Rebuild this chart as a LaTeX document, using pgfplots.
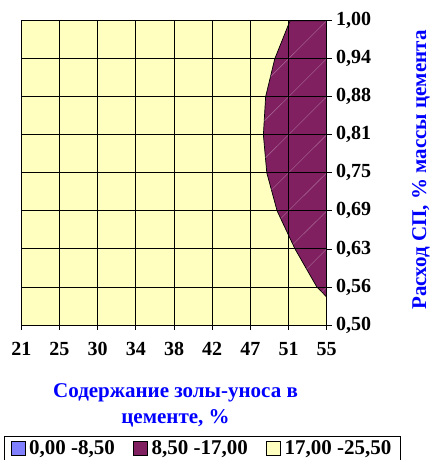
\documentclass[border=0pt]{standalone}
\usepackage{pgfplots}
\pgfplotsset{compat=1.18}
\usepackage{fontspec}
\setmainfont{Liberation Serif}
\definecolor{cyellow}{RGB}{255,255,192}
\definecolor{cpurple}{RGB}{128,32,96}
\definecolor{cblue}{RGB}{128,128,255}
\definecolor{ttl}{RGB}{0,0,255}
\begin{document}
\begin{tikzpicture}[x=1pt,y=1pt]
\useasboundingbox (0,0) rectangle (431,460);
\begin{axis}[
  at={(21.3pt,135pt)}, anchor=south west,
  scale only axis, width=305.4pt, height=304.3pt,
  xmin=21.25, xmax=55.25, ymin=0.5, ymax=1,
  xtick={21.25,25.5,29.75,34,38.25,42.5,46.75,51,55.25},
  xticklabels={21,25,30,34,38,42,47,51,55},
  ytick={0.5,0.5625,0.625,0.6875,0.75,0.8125,0.875,0.9375,1},
  yticklabels={{0,50},{0,56},{0,63},{0,69},{0,75},{0,81},{0,88},{0,94},{1,00}},
  xtick pos=bottom, ytick pos=right, yticklabel pos=right,
  tick align=outside, major tick length=5pt,
  tick style={black, line width=0.8pt},
  grid=major, major grid style={black, line width=0.9pt},
  axis line style={black, line width=0.9pt},
  axis on top,
  axis background/.style={fill=cyellow},
  tick label style={font=\bfseries\fontsize{20}{24}\selectfont},
  xticklabel style={yshift=-9pt},
  yticklabel style={xshift=1pt},
  xlabel={Содержание золы-уноса в\\цементе, \%},
  xlabel style={at={(axis description cs:0.505,-0.265)}, anchor=center, align=center,
    font=\bfseries\fontsize{21}{26}\selectfont, text=ttl},
  ylabel={Расход СП, \% массы цемента},
  ylabel style={at={(axis description cs:1.309,0.509)}, anchor=center, rotate=0,
    font=\bfseries\fontsize{21}{24}\selectfont, text=ttl},
  legend columns=3,
  legend image code/.code={
    \fill[white,opacity=0] (0pt,-7pt) rectangle (19pt,7pt);
    \filldraw[#1,draw=black,line width=0.7pt] (1.5pt,-7pt) rectangle (15.5pt,7pt);},
  legend style={at={(axis description cs:-0.057,-0.366)}, anchor=north west,
    draw=black, line width=0.8pt, inner xsep=5pt, inner ysep=2pt,
    font=\bfseries\fontsize{21}{25}\selectfont,
    nodes={inner xsep=0pt},
    /tikz/every even column/.append style={column sep=17pt}},
]
\addlegendimage{fill=cblue}
\addlegendentry{0,00 -8,50}
\addlegendimage{fill=cpurple}
\addlegendentry{8,50 -17,00}
\addlegendimage{fill=cyellow}
\addlegendentry{17,00 -25,50\hspace*{4pt}}
\addplot[forget plot, fill=cpurple, draw=black, line width=0.7pt] coordinates {
  (51.17,1.0) (49.47,0.9375) (48.45,0.875) (48.20,0.8125) (48.58,0.75)
  (49.73,0.6875) (51.72,0.625) (54.15,0.5625) (55.25,0.546) (55.25,1.0)
} -- cycle;
\addplot[forget plot, draw=white, opacity=0.35, line width=0.4pt, unbounded coords=jump] coordinates {
  (51,0.6875) (55.25,0.75) (nan,nan)
  (51,0.75) (55.25,0.8125) (nan,nan)
  (51,0.8125) (55.25,0.875) (nan,nan)
  (51,0.875) (55.25,0.9375) (nan,nan)
  (51,0.9375) (55.25,1.0) (nan,nan)
  (51.49,0.6323) (55.25,0.6875) (nan,nan)
  (53.0,0.5919) (55.25,0.625) (nan,nan)
  (54.70,0.5544) (55.25,0.5625) (nan,nan)
  (48.99,0.9079) (51,0.9375) (nan,nan)
  (48.29,0.8351) (51,0.875) (nan,nan)
  (48.42,0.7746) (51,0.8125) (nan,nan)
  (49.09,0.7219) (51,0.75) (nan,nan)
  (50.13,0.6748) (51,0.6875)
};
\end{axis}
\end{tikzpicture}
\end{document}
